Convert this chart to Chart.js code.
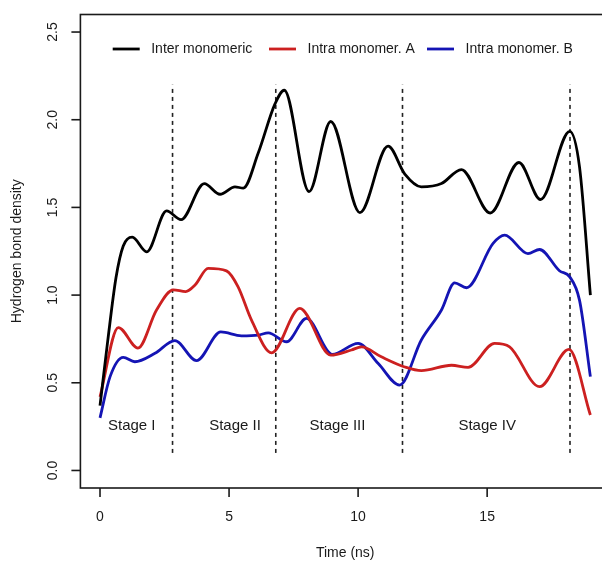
<!DOCTYPE html>
<html>
<head>
<meta charset="utf-8">
<script src="https://cdn.jsdelivr.net/npm/chart.js@4.4.1/dist/chart.umd.min.js"></script>
<style>
  html, body { margin: 0; padding: 0; background: #fff; overflow: hidden; }
  canvas { display: block; }
</style>
</head>
<body>
<canvas id="mycanvas" width="620" height="561" style="width:620px;height:561px"></canvas>
<script>
// values (time in ns, hydrogen bond density)
var interTime = [0, 0.3, 0.62, 0.9, 1.25, 1.81, 2.58, 3.14, 4.04, 4.65, 5.23, 5.55, 6.13, 6.78, 7.14, 8.1, 8.94, 10.07, 11.16, 11.81, 12.45, 13.23, 14.0, 15.12, 16.23, 17.07, 18.2, 18.58, 19.0];
var interDensity = [0.37, 0.74, 1.10, 1.28, 1.33, 1.247, 1.48, 1.43, 1.636, 1.575, 1.617, 1.61, 1.81, 2.09, 2.168, 1.59, 1.99, 1.47, 1.85, 1.69, 1.617, 1.636, 1.716, 1.468, 1.756, 1.545, 1.934, 1.73, 1.0];

var intraATime = [0, 0.71, 1.47, 2.19, 2.84, 3.32, 3.68, 4.19, 4.9, 5.35, 5.87, 6.65, 7.74, 8.94, 9.74, 10.13, 10.9, 11.81, 12.45, 13.62, 14.26, 15.29, 15.87, 17.03, 18.17, 19.0];
var intraADensity = [0.42, 0.815, 0.698, 0.915, 1.03, 1.02, 1.057, 1.152, 1.138, 1.047, 0.857, 0.671, 0.924, 0.658, 0.687, 0.705, 0.648, 0.59, 0.569, 0.60, 0.588, 0.725, 0.705, 0.478, 0.69, 0.316];

var intraBTime = [0, 0.39, 0.9, 1.35, 2.13, 2.9, 3.74, 4.68, 5.48, 6.13, 6.52, 7.23, 8.0, 9.0, 10.0, 10.78, 11.61, 12.45, 13.23, 13.74, 14.2, 15.23, 15.68, 16.58, 17.03, 17.8, 18.2, 18.58, 19.0];
var intraBDensity = [0.30, 0.535, 0.645, 0.62, 0.668, 0.74, 0.626, 0.79, 0.768, 0.772, 0.785, 0.734, 0.867, 0.662, 0.725, 0.61, 0.487, 0.744, 0.915, 1.07, 1.042, 1.295, 1.342, 1.237, 1.26, 1.139, 1.104, 0.97, 0.535];

var dividerTimes = [2.81, 6.81, 11.72, 18.21];
var dividerSpan = [0.1, 2.2];
var stageLabels = ["Stage I", "Stage II", "Stage III", "Stage IV"];
var stageTimes = [1.23, 5.23, 9.2, 15.0];
var stageLevel = 0.254;

var xTicks = [0, 5, 10, 15];
var yTicks = [0.0, 0.5, 1.0, 1.5, 2.0, 2.5];
var yTickLabels = ["0.0", "0.5", "1.0", "1.5", "2.0", "2.5"];

var FONT = "Liberation Sans, Arial, Helvetica, sans-serif";
var INK = "#1a1a1a";

function pts(t, v) {
	return t.map(function(x, i){ return {x: x, y: v[i]}; });
}

var series = [
	{ label: "Inter monomeric", color: "#000000", data: pts(interTime, interDensity) },
	{ label: "Intra monomer. A", color: "#cc2020", data: pts(intraATime, intraADensity) },
	{ label: "Intra monomer. B", color: "#1414b4", data: pts(intraBTime, intraBDensity) }
];

var datasets = series.map(function(s){
	return {
		label: s.label,
		data: s.data,
		borderColor: s.color,
		backgroundColor: s.color,
		borderWidth: 2.8,
		pointRadius: 0,
		fill: false,
		cubicInterpolationMode: "monotone"
	};
});

dividerTimes.forEach(function(t){
	datasets.push({
		label: "divider",
		data: [{x: t, y: dividerSpan[0]}, {x: t, y: dividerSpan[1]}],
		borderColor: "#222",
		borderWidth: 1.6,
		borderDash: [4, 4],
		pointRadius: 0,
		fill: false
	});
});

// R style frame, axes, labels, legend
var rStyle = {
	id: "rStyle",
	afterDraw: function(chart){
		var ctx = chart.ctx;
		var a = chart.chartArea;
		var xs = chart.scales.x, ys = chart.scales.y;
		ctx.save();
		ctx.strokeStyle = INK;
		ctx.lineWidth = 1.6;
		ctx.strokeRect(a.left, a.top, a.right - a.left, a.bottom - a.top);

		ctx.fillStyle = INK;
		ctx.font = "14px " + FONT;
		ctx.textAlign = "center";
		ctx.textBaseline = "middle";
		xTicks.forEach(function(v){
			var px = xs.getPixelForValue(v);
			ctx.beginPath();
			ctx.moveTo(px, a.bottom);
			ctx.lineTo(px, a.bottom + 9);
			ctx.stroke();
			ctx.fillText(String(v), px, 517);
		});
		yTicks.forEach(function(v, i){
			var py = ys.getPixelForValue(v);
			ctx.beginPath();
			ctx.moveTo(a.left - 9, py);
			ctx.lineTo(a.left, py);
			ctx.stroke();
			ctx.save();
			ctx.translate(53, py);
			ctx.rotate(-Math.PI / 2);
			ctx.fillText(yTickLabels[i], 0, 0);
			ctx.restore();
		});

		// axis titles
		ctx.fillText("Time (ns)", (a.left + a.right) / 2, 553);
		ctx.save();
		ctx.translate(17.5, (a.top + a.bottom) / 2);
		ctx.rotate(-Math.PI / 2);
		ctx.fillText("Hydrogen bond density", 0, 0);
		ctx.restore();

		// stage labels
		ctx.font = "15px " + FONT;
		stageLabels.forEach(function(s, i){
			ctx.fillText(s, xs.getPixelForValue(stageTimes[i]), ys.getPixelForValue(stageLevel));
		});

		// legend
		ctx.font = "14px " + FONT;
		ctx.textAlign = "left";
		var legX = [112.7, 269, 427];
		series.forEach(function(s, i){
			ctx.strokeStyle = s.color;
			ctx.lineWidth = 2.8;
			ctx.beginPath();
			ctx.moveTo(legX[i], 49);
			ctx.lineTo(legX[i] + 27, 49);
			ctx.stroke();
			ctx.fillText(s.label, legX[i] + 38.5, 49);
		});
		ctx.restore();
	}
};

var ctx = document.getElementById("mycanvas");
var HBondGraph = new Chart(ctx, {
	type: "line",
	data: { datasets: datasets },
	options: {
		responsive: false,
		animation: false,
		layout: { padding: { top: 14.5, right: 10, left: 0, bottom: 0 } },
		plugins: { legend: { display: false }, tooltip: { enabled: false } },
		scales: {
			x: {
				type: "linear",
				min: -0.76,
				max: 19.76,
				grid: { display: false },
				border: { display: false },
				ticks: { display: false },
				afterFit: function(s){ s.height = 73; }
			},
			y: {
				min: -0.1,
				max: 2.6,
				grid: { display: false },
				border: { display: false },
				ticks: { display: false },
				afterFit: function(s){ s.width = 80.4; }
			}
		}
	},
	plugins: [rStyle]
});
</script>
</body>
</html>
